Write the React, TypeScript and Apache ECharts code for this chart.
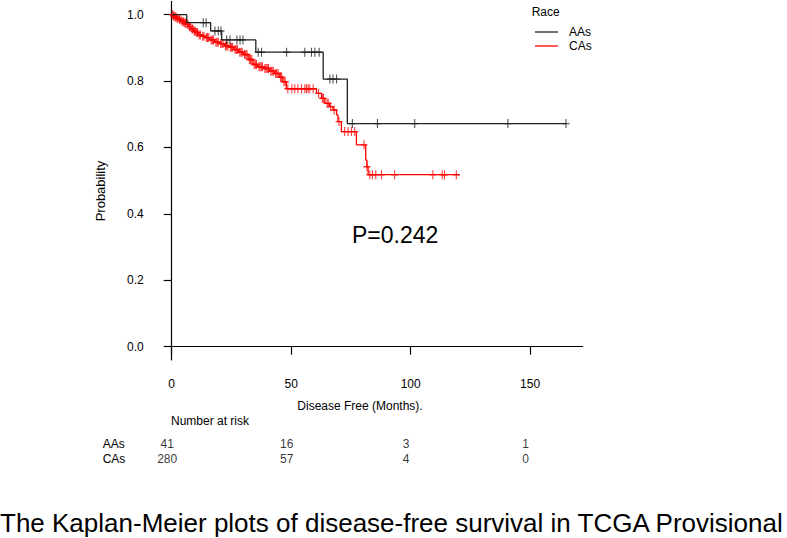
import React, { useEffect, useRef } from 'react';
import * as echarts from 'echarts';

// ---- data ----
const xTicks = [0, 50, 100, 150];
const yTicks = [0, 0.2, 0.4, 0.6, 0.8, 1.0];

const aaTimes = [0, 6.3, 16.3, 20.9, 35.2, 63.4, 73.5];
const aaSurv = [1.0, 0.976, 0.951, 0.924, 0.887, 0.806, 0.672];
const aaLast = 165;
const aaCensor = [13.2, 14.4, 18.1, 19.5, 20.6, 23, 24.4, 27.3, 28.6, 29.8, 36.2, 37.6, 48.1, 55.7, 58.5, 59.9, 61.7, 66.2, 67.5, 69, 75.6, 86.1, 101.7, 140.7, 165];

const caTimes = [0, 0.5, 1.2, 2.0, 2.8, 3.6, 4.4, 5.2, 6.0, 7.0, 8.0, 9.0, 10.0, 11.0, 12.5, 14.0, 16.0, 18.0, 20.0, 22.0, 24.0, 26.0, 28.0, 30.0, 32.0, 34.0, 36.0, 38.5, 41.0, 43.0, 45.0, 46.5, 48.0, 60.6, 62.7, 64.1, 66.0, 67.5, 69.0, 69.6, 71.0, 77.3, 81.2, 81.7, 82.2];
const caSurv = [1.0, 0.996, 0.993, 0.989, 0.986, 0.982, 0.979, 0.975, 0.971, 0.964, 0.957, 0.95, 0.946, 0.939, 0.935, 0.931, 0.924, 0.917, 0.913, 0.906, 0.902, 0.895, 0.887, 0.88, 0.865, 0.85, 0.843, 0.838, 0.83, 0.823, 0.812, 0.798, 0.777, 0.763, 0.748, 0.733, 0.723, 0.713, 0.698, 0.678, 0.648, 0.608, 0.562, 0.542, 0.518];
const caLast = 120.5;
const caCensor = [
  0.3, 0.8, 1, 1.5, 1.8, 2.3, 2.5, 3.2, 3.4, 4, 4.7, 5, 5.5, 5.8, 6.5, 6.8, 7.5, 7.8, 8.5, 8.8, 9.5, 9.8, 10.5,
  10.8, 11.5, 12, 13, 13.5, 14.5, 15, 15.5, 16.5, 17, 17.5, 18.5, 19, 19.5, 20.5, 21, 21.5, 22.5, 23, 23.5, 24.5,
  25, 25.5, 26.5, 27, 27.5, 28.5, 29, 29.5, 30.5, 31, 31.5, 32.5, 33, 33.5, 34.5, 35, 35.5, 36.5, 37, 37.5, 38,
  39, 39.5, 40, 40.5, 41.5, 42, 42.5, 43.5, 44, 44.5, 45.5, 46, 47, 47.5, 48.6, 50.3, 51.5, 52.8, 54.3, 55.7,
  56.4, 57.1, 57.8, 59.2, 61.5, 63, 63.5, 65, 65.5, 66.5, 68, 70, 72.4, 73.8, 75.2, 76.6, 80.5, 81.7, 82.9,
  84.0, 85.4, 87.8, 93.3, 109.3, 113.2, 114.2, 119.1,
];

const groups = ['AAs', 'CAs'];
const riskTimes = [0, 50, 100, 150];
const riskAAs = [41, 16, 3, 1];
const riskCAs = [280, 57, 4, 0];

const pText = 'P=0.242';
const caption = 'The Kaplan-Meier plots of disease-free survival in TCGA Provisional';

// ---- helpers ----
function stepData(times: number[], surv: number[], last: number) {
  const d = times.map((t, i) => [t, surv[i]]);
  d.push([last, surv[surv.length - 1]]);
  return d;
}
function survAt(times: number[], surv: number[], t: number) {
  let s = surv[0];
  for (let i = 0; i < times.length; i++) if (times[i] <= t) s = surv[i];
  return s;
}

const FONT = '"Liberation Sans", Arial, sans-serif';
const BLACK = '#222';
const RED = '#ff0000';
const PLUS = 'path://M0,-1L0,1M-1,0L1,0';
const LEGEND_LINE = 'path://M0,0H23V1.3H0Z';

export default function App() {
  const ref = useRef<HTMLDivElement>(null);
  useEffect(() => {
    document.body.style.margin = '0';
    if (!ref.current) return;
    const chart = echarts.init(ref.current, undefined, { renderer: 'svg' });
    const gridL = 171.7;
    const gridR = 204.3;
    const option: any = {
      animation: false,
      textStyle: { fontFamily: FONT, color: '#000' },
      grid: [
        { left: gridL, right: gridR, top: 1.4, height: 358.6 },
        { left: gridL, right: gridR, top: 436, height: 30 },
      ],
      xAxis: [
        {
          gridIndex: 0,
          type: 'value',
          min: 0,
          max: 172,
          axisLine: { show: true, lineStyle: { color: '#000', width: 1.2 } },
          axisTick: { show: true, length: 8, customValues: xTicks, lineStyle: { color: '#000', width: 1.2 } },
          axisLabel: { customValues: xTicks, margin: 18, fontSize: 12, color: '#000', fontFamily: FONT },
          splitLine: { show: false },
        },
        { gridIndex: 1, type: 'value', min: 0, max: 172, show: false },
      ],
      yAxis: [
        {
          gridIndex: 0,
          type: 'value',
          min: -0.04,
          max: 1.04,
          axisLine: { show: true, lineStyle: { color: '#000', width: 1.2 } },
          axisTick: { show: true, length: 8, customValues: yTicks, lineStyle: { color: '#000', width: 1.2 } },
          axisLabel: {
            customValues: yTicks,
            margin: 28,
            fontSize: 12,
            color: '#000',
            fontFamily: FONT,
            formatter: (v: number) => v.toFixed(1),
          },
          splitLine: { show: false },
        },
        {
          gridIndex: 1,
          type: 'category',
          data: groups,
          inverse: true,
          axisLine: { show: false },
          axisTick: { show: false },
          axisLabel: { interval: 0, align: 'left', margin: 69, fontSize: 12, color: '#000', fontFamily: FONT },
        },
      ],
      legend: {
        data: groups.map((g) => ({ name: g, icon: LEGEND_LINE })),
        orient: 'vertical',
        left: 535,
        top: 26,
        padding: 0,
        itemWidth: 23,
        itemHeight: 12,
        itemGap: 2,
        selectedMode: false,
        textStyle: { fontSize: 12, color: '#000', fontFamily: FONT, padding: [0, 0, 0, 6] },
      },
      series: [
        {
          name: 'AAs',
          type: 'line',
          step: 'end',
          symbol: 'none',
          data: stepData(aaTimes, aaSurv, aaLast),
          color: BLACK,
          lineStyle: { color: BLACK, width: 1.3 },
          z: 3,
        },
        {
          name: 'CAs',
          type: 'line',
          step: 'end',
          symbol: 'none',
          data: stepData(caTimes, caSurv, caLast),
          color: RED,
          lineStyle: { color: RED, width: 1.3 },
          z: 2,
        },
        {
          name: 'AAs censored',
          type: 'scatter',
          symbol: PLUS,
          symbolSize: [7, 9],
          data: aaCensor.map((t) => [t, survAt(aaTimes, aaSurv, t)]),
          itemStyle: { color: 'none', borderColor: BLACK, borderWidth: 1.2 },
          z: 4,
        },
        {
          name: 'CAs censored',
          type: 'scatter',
          symbol: PLUS,
          symbolSize: [7, 9],
          data: caCensor.map((t) => [t, survAt(caTimes, caSurv, t)]),
          itemStyle: { color: 'none', borderColor: RED, borderWidth: 1.2 },
          z: 2,
        },
        {
          name: 'risk',
          type: 'scatter',
          xAxisIndex: 1,
          yAxisIndex: 1,
          symbolSize: 1,
          itemStyle: { color: 'transparent' },
          data: [
            ...riskTimes.map((t, i) => [t, 'AAs', riskAAs[i]]),
            ...riskTimes.map((t, i) => [t, 'CAs', riskCAs[i]]),
          ],
          label: {
            show: true,
            position: 'inside',
            offset: [-4.5, 0],
            formatter: (p: any) => String(p.value[2]),
            fontSize: 12,
            color: '#000',
            fontFamily: FONT,
          },
        },
      ],
      graphic: [
        {
          type: 'text',
          left: 531.7,
          top: 6,
          style: { text: 'Race', fill: '#000', font: `12px ${FONT}` },
        },
        {
          type: 'text',
          x: 100,
          y: 191,
          rotation: Math.PI / 2,
          style: { text: 'Probability', font: `13px ${FONT}`, fill: '#000', align: 'center', verticalAlign: 'middle' },
        },
        {
          type: 'text',
          x: 360,
          y: 405.5,
          style: { text: 'Disease Free (Months).', font: `12px ${FONT}`, fill: '#000', align: 'center', verticalAlign: 'middle' },
        },
        {
          type: 'text',
          x: 171,
          y: 421,
          style: { text: 'Number at risk', font: `12px ${FONT}`, fill: '#000', align: 'left', verticalAlign: 'middle' },
        },
        {
          type: 'text',
          x: 352,
          y: 235,
          style: { text: pText, font: `23px ${FONT}`, fill: '#000', align: 'left', verticalAlign: 'middle' },
        },
        {
          type: 'text',
          x: 0,
          y: 522.5,
          style: { text: caption, font: `26px ${FONT}`, fill: '#000', align: 'left', verticalAlign: 'middle' },
        },
      ],
    };
    chart.setOption(option);
    return () => chart.dispose();
  }, []);
  return <div ref={ref} style={{ width: 787, height: 538 }} />;
}
